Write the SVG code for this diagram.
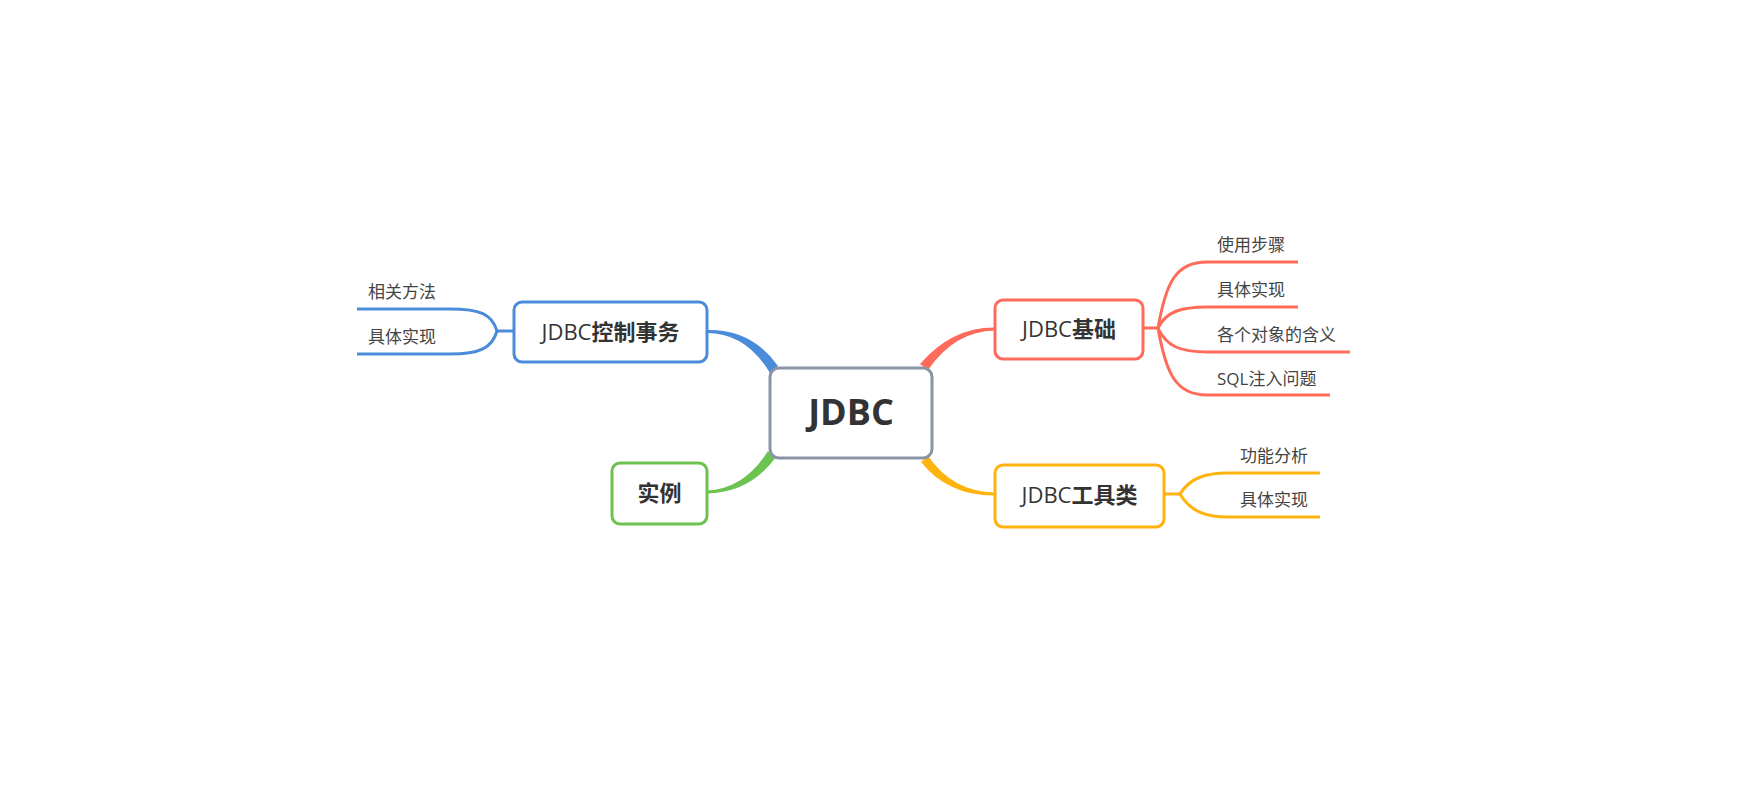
<svg xmlns="http://www.w3.org/2000/svg" width="1750" height="800" viewBox="0 0 1750 800">
<style>
.box{fill:#fff;stroke-width:3}
.t{font-family:"Open Sans","Noto Sans CJK SC",sans-serif;fill:#333;text-anchor:middle}
.main{font-size:22px}
.cjk{font-weight:bold}
.sub{font-family:"Open Sans","Noto Sans CJK SC",sans-serif;font-size:17px;fill:#444}
.br{fill:none;stroke-width:3}
</style>
<rect width="1750" height="800" fill="#fff"/>
<g id="connectors">
  <path d="M707,330 Q752,329 778,366 L770,373 Q746,333 707,333 Z" fill="#4a8bda"/>
  <path d="M995,327.5 Q952,327 920,364 L928,370 Q955,331 995,330.5 Z" fill="#ff6b5a"/>
  <path d="M995,492.5 Q953,492 928,456 L921,462 Q948,496 995,495.5 Z" fill="#ffb30f"/>
  <path d="M707,493.5 Q750,493 776,457 L768,451 Q744,489 707,490.5 Z" fill="#6dc351"/>
  <g class="br" stroke="#4a8bda">
    <path d="M514,331 H497"/>
    <path d="M497,331 C492,314 480,309 450,309 H357"/>
    <path d="M497,331 C492,348 480,354 450,354 H357"/>
  </g>
  <g class="br" stroke="#ff6b5a">
    <path d="M1143,328 H1158"/>
    <path d="M1158,328 C1166,282 1176,262 1207,262 H1298"/>
    <path d="M1158,328 C1166,312 1180,307 1207,307 H1298"/>
    <path d="M1158,328 C1166,346 1180,352 1207,352 H1350"/>
    <path d="M1158,328 C1166,374 1176,395 1207,395 H1330"/>
  </g>
  <g class="br" stroke="#ffb30f">
    <path d="M1164,494 H1180"/>
    <path d="M1180,494 C1190,478 1205,473 1228,473 H1320"/>
    <path d="M1180,494 C1190,511 1205,517 1228,517 H1320"/>
  </g>
</g>
<g id="root">
  <rect class="box" x="770" y="368" width="162" height="90" rx="9" stroke="#8a94a6" stroke-width="4"/>
  <text class="t" x="851" y="425" font-size="36" font-weight="bold">JDBC</text>
</g>
<g id="n-tx">
  <rect class="box" x="514" y="302" width="193" height="60" rx="8" stroke="#4a8bda"/>
  <text class="t main" x="610.5" y="340">JDBC<tspan class="cjk">控制事务</tspan></text>
</g>
<g id="n-tx-1"><text class="sub" x="368" y="298">相关方法</text></g>
<g id="n-tx-2"><text class="sub" x="368" y="343">具体实现</text></g>
<g id="n-ex">
  <rect class="box" x="612" y="463" width="95" height="61" rx="8" stroke="#6dc351"/>
  <text class="t main cjk" x="659.5" y="501">实例</text>
</g>
<g id="n-basic">
  <rect class="box" x="995" y="300" width="148" height="59" rx="8" stroke="#ff6b5a"/>
  <text class="t main" x="1069" y="337">JDBC<tspan class="cjk">基础</tspan></text>
</g>
<g id="n-basic-1"><text class="sub" x="1217" y="251">使用步骤</text></g>
<g id="n-basic-2"><text class="sub" x="1217" y="296">具体实现</text></g>
<g id="n-basic-3"><text class="sub" x="1217" y="341">各个对象的含义</text></g>
<g id="n-basic-4"><text class="sub" x="1217" y="385">SQL注入问题</text></g>
<g id="n-util">
  <rect class="box" x="995" y="465" width="169" height="62" rx="8" stroke="#ffb30f"/>
  <text class="t main" x="1079.5" y="503">JDBC<tspan class="cjk">工具类</tspan></text>
</g>
<g id="n-util-1"><text class="sub" x="1240" y="462">功能分析</text></g>
<g id="n-util-2"><text class="sub" x="1240" y="506">具体实现</text></g>
</svg>
